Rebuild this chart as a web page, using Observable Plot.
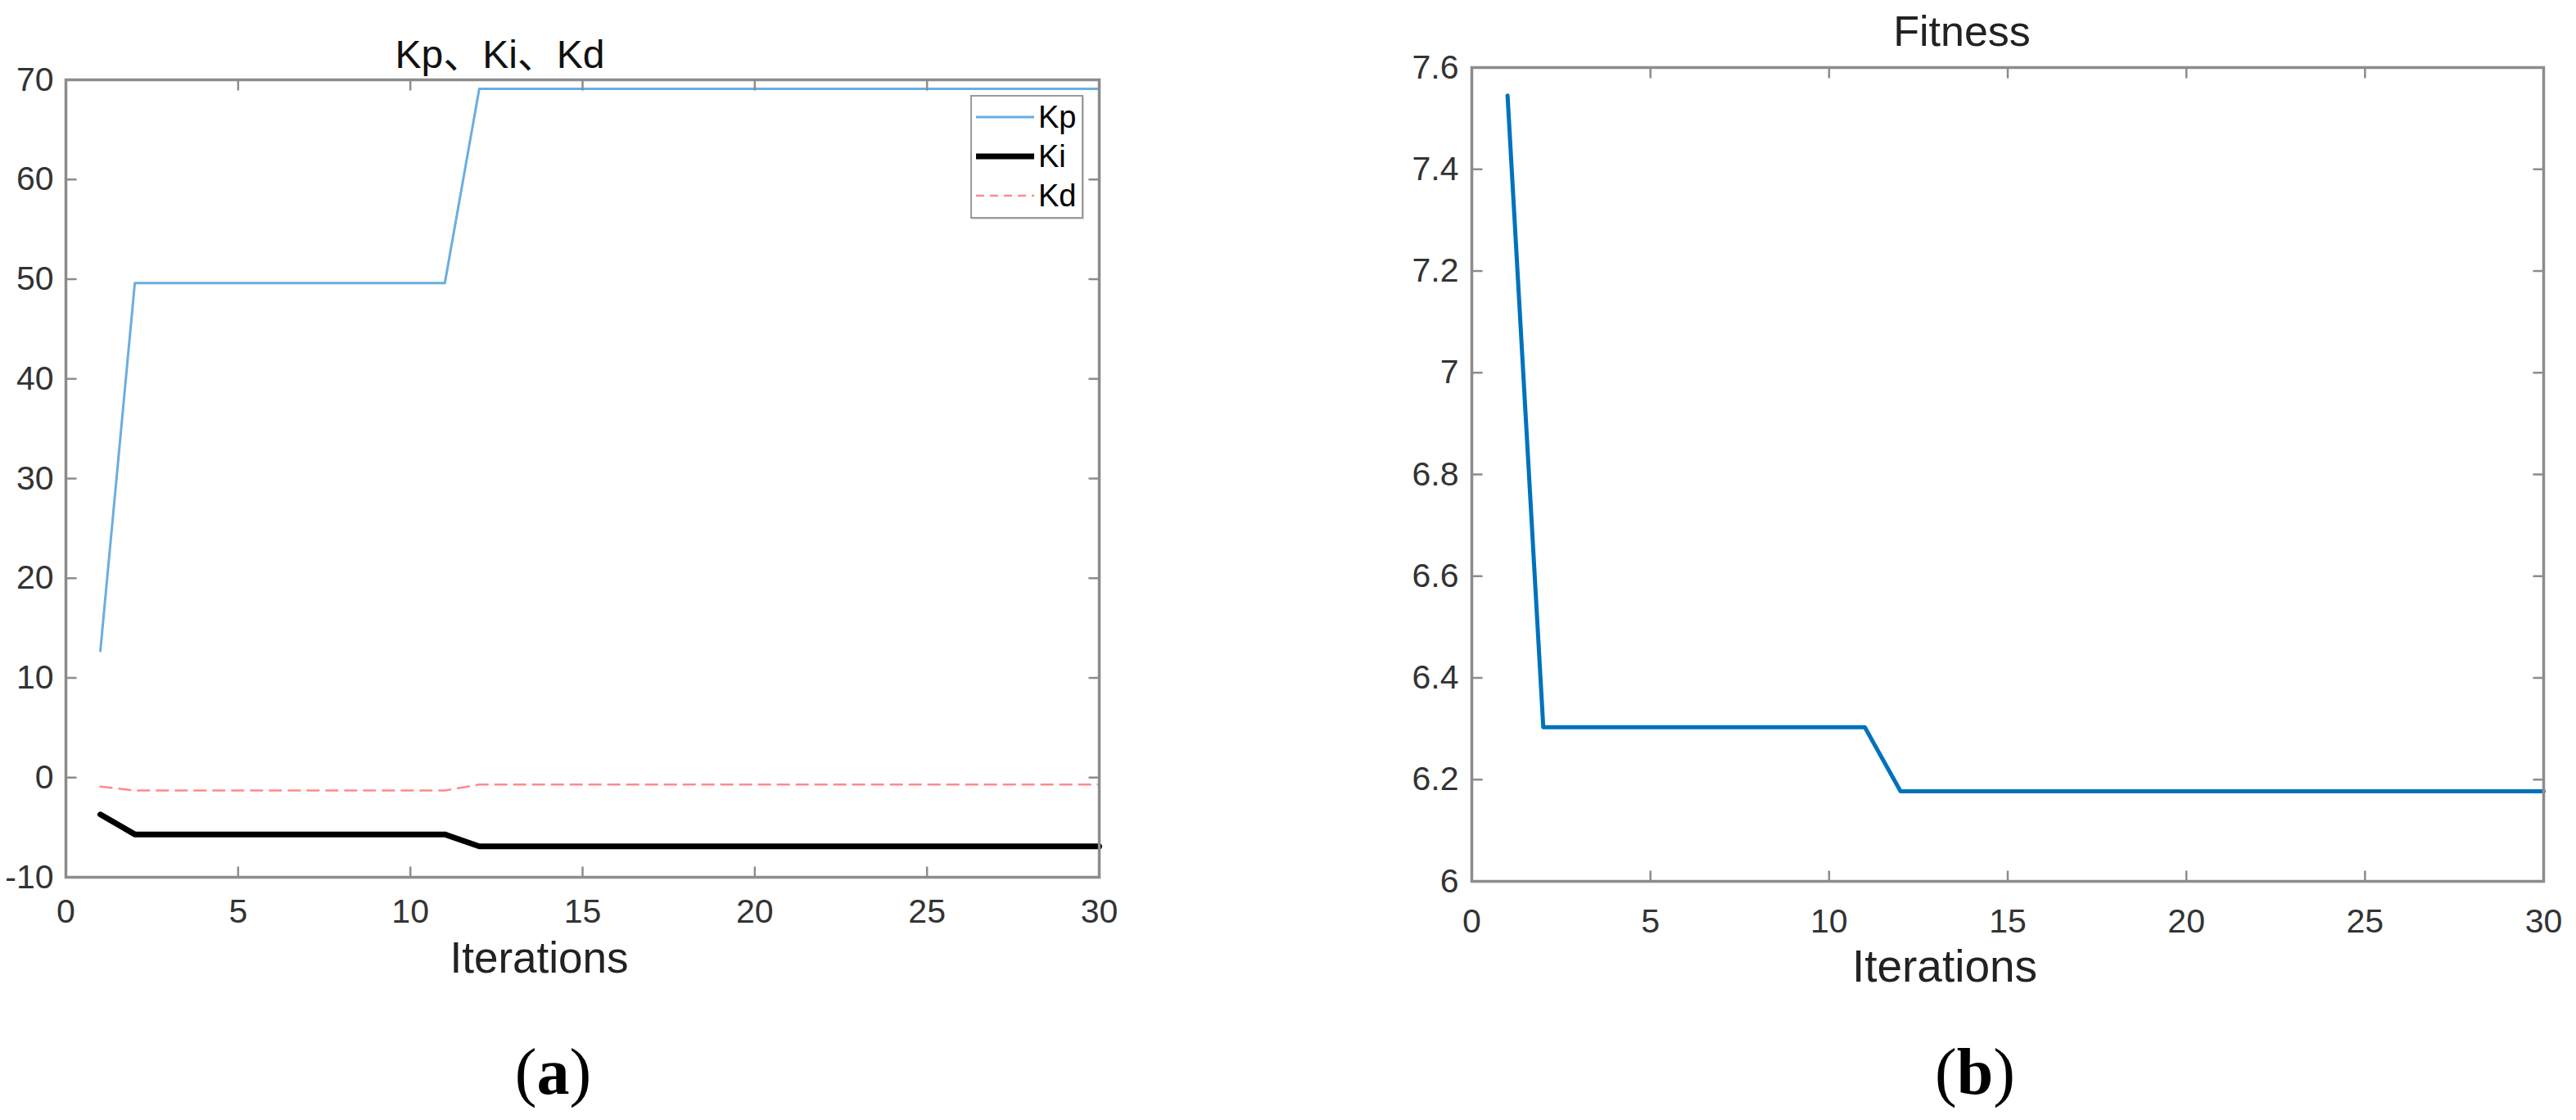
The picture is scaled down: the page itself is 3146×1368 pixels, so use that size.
<!DOCTYPE html>
<html><head><meta charset="utf-8">
<script src="https://cdn.jsdelivr.net/npm/d3@7"></script>
<script src="https://cdn.jsdelivr.net/npm/@observablehq/plot@0.6"></script>
<style>
html,body{margin:0;padding:0;background:#fff;}
#wrap{position:relative;width:3146px;height:1368px;overflow:hidden;background:#fff;}
.panel{position:absolute;top:0;}
.legend{position:absolute;left:1185px;top:116px;width:134px;height:147px;border:2.5px solid #9a9a9a;background:#fff;box-shadow:1px 1px 0 #d8d8d8;}
.legend svg{position:absolute;left:0;top:0;}
.legend .lab{position:absolute;left:81px;font:38px "Liberation Sans","Noto Sans CJK SC",sans-serif;color:#000;line-height:38px;}
</style></head><body><div id="wrap"></div>
<script>
// ---- data ----
const iterations = [1,2,3,4,5,6,7,8,9,10,11,12,13,14,15,16,17,18,19,20,21,22,23,24,25,26,27,28,29,30];
const kp = [12.7,49.6,49.6,49.6,49.6,49.6,49.6,49.6,49.6,49.6,49.6,69.1,69.1,69.1,69.1,69.1,69.1,69.1,69.1,69.1,69.1,69.1,69.1,69.1,69.1,69.1,69.1,69.1,69.1,69.1];
const ki = [-3.7,-5.7,-5.7,-5.7,-5.7,-5.7,-5.7,-5.7,-5.7,-5.7,-5.7,-6.9,-6.9,-6.9,-6.9,-6.9,-6.9,-6.9,-6.9,-6.9,-6.9,-6.9,-6.9,-6.9,-6.9,-6.9,-6.9,-6.9,-6.9,-6.9];
const kd = [-0.9,-1.3,-1.3,-1.3,-1.3,-1.3,-1.3,-1.3,-1.3,-1.3,-1.3,-0.7,-0.7,-0.7,-0.7,-0.7,-0.7,-0.7,-0.7,-0.7,-0.7,-0.7,-0.7,-0.7,-0.7,-0.7,-0.7,-0.7,-0.7,-0.7];
const fitness = [7.545,6.303,6.303,6.303,6.303,6.303,6.303,6.303,6.303,6.303,6.303,6.177,6.177,6.177,6.177,6.177,6.177,6.177,6.177,6.177,6.177,6.177,6.177,6.177,6.177,6.177,6.177,6.177,6.177,6.177];
const xTicks = [0,5,10,15,20,25,30];
const yTicksA = [-10,0,10,20,30,40,50,60,70];
const yTicksB = [6,6.2,6.4,6.6,6.8,7,7.2,7.4,7.6];
const seriesNames = ["Kp","Ki","Kd"];
const titleA = "Kp、Ki、Kd";
const titleB = "Fitness";
const xLabel = "Iterations";

const FONT = '"Liberation Sans","Noto Sans CJK SC",sans-serif';
const AXIS = "#8c8c8c";
const tickShape = {draw(ctx, l){ ctx.moveTo(0,0); ctx.lineTo(0,-l); }};
const plainFmt = d => String(+(+d).toFixed(1));

function tickMarks(xt, yt){
  const o = {length: 12, anchor: "start", shape: tickShape, stroke: AXIS, strokeWidth: 2.5};
  return [
    Plot.vectorX(xt, {x: d => d, frameAnchor: "bottom", rotate: 0, ...o}),
    Plot.vectorX(xt, {x: d => d, frameAnchor: "top", rotate: 180, ...o}),
    Plot.vectorY(yt, {y: d => d, frameAnchor: "left", rotate: 90, ...o}),
    Plot.vectorY(yt, {y: d => d, frameAnchor: "right", rotate: -90, ...o})
  ];
}

const rowsA = iterations.map((it, i) => ({it, kp: kp[i], ki: ki[i], kd: kd[i]}));
const rowsB = iterations.map((it, i) => ({it, f: fitness[i]}));

const wrap = document.getElementById("wrap");
const ns = "http://www.w3.org/2000/svg";

function boldCaption(svg){
  svg.querySelectorAll("text").forEach(t => {
    if (t.textContent === "(a)" || t.textContent === "(b)") {
      const letter = t.textContent[1];
      t.textContent = "";
      const a = document.createElementNS(ns, "tspan"); a.textContent = "(";
      const b = document.createElementNS(ns, "tspan"); b.textContent = letter; b.setAttribute("font-weight", "bold");
      const c = document.createElementNS(ns, "tspan"); c.textContent = ")";
      t.append(a, b, c);
    }
  });
}

// ---- panel (a) ----
const pA = Plot.plot({
  width: 1420, height: 1368,
  marginLeft: 80, marginRight: 78, marginTop: 97, marginBottom: 297,
  style: {background: "transparent", fontFamily: FONT, overflow: "visible"},
  x: {domain: [0, 30], label: null},
  y: {domain: [-10, 70], label: null},
  marks: [
    Plot.line(rowsA, {x: "it", y: "kd", stroke: "#ff8a8a", strokeWidth: 2.5, strokeDasharray: "14,9"}),
    Plot.line(rowsA, {x: "it", y: "ki", stroke: "#000", strokeWidth: 7, strokeLinejoin: "round"}),
    Plot.line(rowsA, {x: "it", y: "kp", stroke: "#6aaee0", strokeWidth: 3}),
    Plot.frame({stroke: AXIS, strokeWidth: 3.5}),
    ...tickMarks(xTicks, yTicksA),
    Plot.axisX(xTicks, {tickSize: 0, tickPadding: 26, fontSize: 41, fill: "#333", label: null, tickFormat: plainFmt}),
    Plot.axisY(yTicksA, {tickSize: 0, tickPadding: 15, fontSize: 41, fill: "#333", label: null, tickFormat: plainFmt}),
    Plot.text([titleA], {frameAnchor: "top", dx: -101, dy: -15, lineAnchor: "bottom", fontSize: 48, fill: "#111"}),
    Plot.text([xLabel], {frameAnchor: "bottom", dx: -53, dy: 116, lineAnchor: "bottom", fontSize: 53, fill: "#222"}),
    Plot.text(["(a)"], {frameAnchor: "bottom", dx: -36, dy: 264, lineAnchor: "bottom", fontSize: 80, fill: "#000", fontFamily: '"Liberation Serif",serif'})
  ]
});
boldCaption(pA);
const dA = document.createElement("div"); dA.className = "panel"; dA.style.left = "0px"; dA.appendChild(pA); wrap.appendChild(dA);

// legend
const leg = document.createElement("div"); leg.className = "legend";
const lsvg = document.createElementNS(ns, "svg"); lsvg.setAttribute("width", 134); lsvg.setAttribute("height", 147);
const legStyles = [
  {stroke: "#6aaee0", w: 3, dash: null},
  {stroke: "#000", w: 7, dash: null},
  {stroke: "#ff8a8a", w: 2.5, dash: "10,7"}
];
seriesNames.forEach((name, i) => {
  const y = 25 + i * 48;
  const ln = document.createElementNS(ns, "line");
  ln.setAttribute("x1", 5); ln.setAttribute("x2", 76); ln.setAttribute("y1", y); ln.setAttribute("y2", y);
  ln.setAttribute("stroke", legStyles[i].stroke); ln.setAttribute("stroke-width", legStyles[i].w);
  if (legStyles[i].dash) ln.setAttribute("stroke-dasharray", legStyles[i].dash);
  lsvg.appendChild(ln);
  const lab = document.createElement("div"); lab.className = "lab"; lab.textContent = name;
  lab.style.top = (y - 19) + "px";
  leg.appendChild(lab);
});
leg.prepend(lsvg);
wrap.appendChild(leg);

// ---- panel (b) ----
const pB = Plot.plot({
  width: 1446, height: 1368,
  marginLeft: 97, marginRight: 40, marginTop: 82, marginBottom: 292,
  style: {background: "transparent", fontFamily: FONT, overflow: "visible"},
  x: {domain: [0, 30], label: null},
  y: {domain: [6, 7.6], label: null},
  marks: [
    Plot.line(rowsB, {x: "it", y: "f", stroke: "#0072BD", strokeWidth: 5}),
    Plot.frame({stroke: AXIS, strokeWidth: 3.5}),
    ...tickMarks(xTicks, yTicksB),
    Plot.axisX(xTicks, {tickSize: 0, tickPadding: 33, fontSize: 41, fill: "#333", label: null, tickFormat: plainFmt}),
    Plot.axisY(yTicksB, {tickSize: 0, tickPadding: 16, fontSize: 41, fill: "#333", label: null, tickFormat: plainFmt}),
    Plot.text([titleB], {frameAnchor: "top", dx: -56, dy: -27, lineAnchor: "bottom", fontSize: 52, fill: "#222"}),
    Plot.text([xLabel], {frameAnchor: "bottom", dx: -77, dy: 122, lineAnchor: "bottom", fontSize: 55, fill: "#222"}),
    Plot.text(["(b)"], {frameAnchor: "bottom", dx: -40, dy: 259, lineAnchor: "bottom", fontSize: 80, fill: "#000", fontFamily: '"Liberation Serif",serif'})
  ]
});
boldCaption(pB);
const dB = document.createElement("div"); dB.className = "panel"; dB.style.left = "1700px"; dB.appendChild(pB); wrap.appendChild(dB);
</script>
</body></html>
